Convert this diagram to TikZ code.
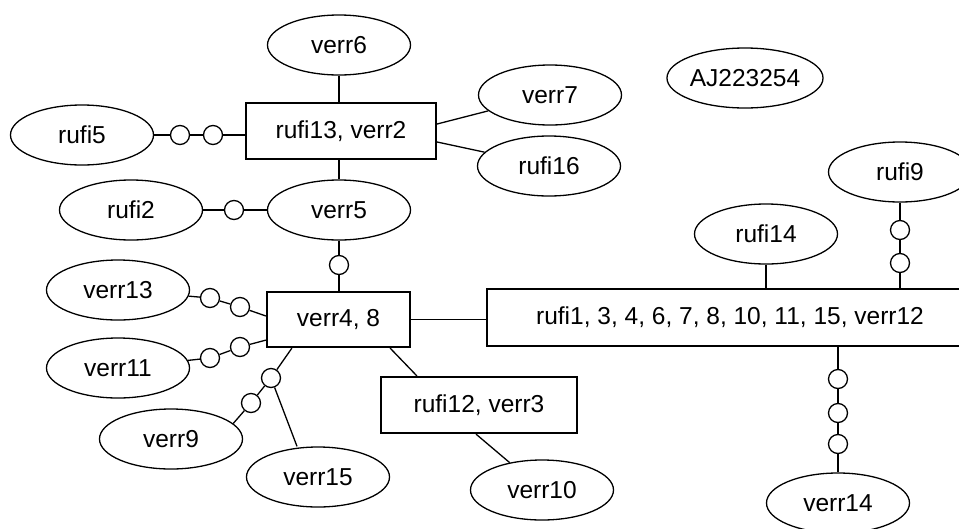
\documentclass[tikz,border=0pt]{standalone}
\usepackage{fontspec}
\setmainfont{Liberation Sans}
\usetikzlibrary{shapes.geometric}
\begin{document}
\begin{tikzpicture}[x=1pt,y=-1pt,
  every node/.style={font=\fontsize{24.5}{28}\selectfont},
  oval/.style={ellipse,draw,line width=1.3pt,minimum width=143pt,minimum height=60pt,inner sep=0pt},
  box/.style={rectangle,draw,line width=2.2pt,inner sep=0pt},
  dot/.style={circle,draw,line width=1.3pt,minimum size=19pt,inner sep=0pt,fill=white},
  link/.style={line width=1.3pt}]
\useasboundingbox (0,0) rectangle (959,528);
\clip (0,0) rectangle (959,528);
% nodes
\node[oval] (verr6) at (339,45) {verr6};
\node[box,minimum width=190pt,minimum height=56pt] (r13) at (341,131) {rufi13, verr2};
\node[oval] (rufi5) at (82,135) {rufi5};
\node[dot] (a1) at (180,135) {};
\node[dot] (a2) at (213,135) {};
\node[oval] (verr7) at (550,95) {verr7};
\node[oval] (rufi16) at (549,166) {rufi16};
\node[oval] (AJ) at (745,78) {AJ223254};
\node[oval] (verr5) at (339,210) {verr5};
\node[oval] (rufi2) at (131,210) {rufi2};
\node[dot] (b1) at (234,210) {};
\node[dot] (d1) at (339,265) {};
\node[box,minimum width=143pt,minimum height=55pt] (r48) at (338.5,319.5) {verr4, 8};
\node[oval] (verr13) at (118,290) {verr13};
\node[dot] (e1) at (210,298) {};
\node[dot] (e2) at (240,307) {};
\node[oval] (verr11) at (118,368) {verr11};
\node[dot] (f1) at (210,358) {};
\node[dot] (f2) at (240,347) {};
\node[dot] (g1) at (271,378) {};
\node[dot] (g2) at (251,403) {};
\node[oval] (verr9) at (171,439) {verr9};
\node[oval] (verr15) at (318,477) {verr15};
\node[box,minimum width=196pt,minimum height=56pt] (r12) at (479,405) {rufi12, verr3};
\node[oval] (verr10) at (542,490) {verr10};
\node[box,minimum width=486pt,minimum height=57pt] (R) at (730,317.5) {rufi1, 3, 4, 6, 7, 8, 10, 11, 15, verr12};
\node[oval] (rufi14) at (766,234) {rufi14};
\node[oval] (rufi9) at (900,172) {rufi9};
\node[dot] (h1) at (900,230) {};
\node[dot] (h2) at (900,263) {};
\node[dot] (k1) at (838,379) {};
\node[dot] (k2) at (838,413) {};
\node[dot] (k3) at (838,444) {};
\node[oval] (verr14) at (838,503) {verr14};
% connectors
\draw[link] (verr6.south) -- (verr6.south |- r13.north);
\draw[link] (rufi5) -- (a1) -- (a2) -- (a2 -| r13.west);
\draw[link] ([yshift=7pt]r13.east) -- (verr7);
\draw[link] ([yshift=-11pt]r13.east) -- (rufi16);
\draw[link] (verr5.north |- r13.south) -- (verr5.north);
\draw[link] (rufi2) -- (b1) -- (verr5);
\draw[link] (verr5) -- (d1) -- (d1 |- r48.north);
\draw[link] (verr13) -- (e1) -- (e2) -- ([yshift=3.5pt]r48.west);
\draw[link] (verr11) -- (f1) -- (f2) -- ([yshift=8pt]r48.south west);
\draw[link] ([xshift=26pt]r48.south west) -- (g1) -- (g2) -- (verr9.14);
\draw[link] (g1) -- ([xshift=-21pt]verr15.north);
\draw[link] ([xshift=-21pt]r48.south east) -- ([xshift=37pt]r12.north west);
\draw[link] ([xshift=-3pt]r12.south) -- (verr10);
\draw[link] (r48.east) -- (r48.east -| R.west);
\draw[link] (rufi14.south) -- (rufi14.south |- R.north);
\draw[link] (rufi9) -- (h1) -- (h2) -- (h2 |- R.north);
\draw[link] (k1 |- R.south) -- (k1) -- (k2) -- (k3) -- (verr14);
\end{tikzpicture}
\end{document}
